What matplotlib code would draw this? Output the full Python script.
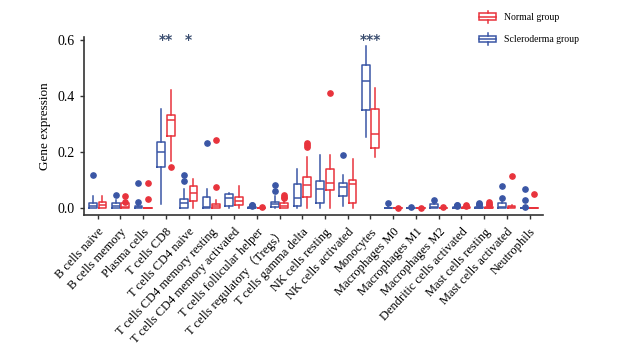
import matplotlib
matplotlib.use('Agg')
import matplotlib.pyplot as plt
from matplotlib.patches import Rectangle
from matplotlib.lines import Line2D
from matplotlib.legend_handler import HandlerBase
import numpy as np

plt.rcParams['font.family'] = ['Liberation Serif', 'Noto Sans CJK SC', 'DejaVu Serif']

cells = ['B cells naive', 'B cells memory', 'Plasma cells', 'T cells CD8', 'T cells CD4 naive',
         'T cells CD4 memory resting', 'T cells CD4 memory activated', 'T cells follicular helper',
         'T cells regulatory（Tregs）', 'T cells gamma delta', 'NK cells resting', 'NK cells activated',
         'Monocytes', 'Macrophages M0', 'Macrophages M1', 'Macrophages M2', 'Dendritic cells activated',
         'Mast cells resting', 'Mast cells activated', 'Neutrophils']

# Scleroderma group (blue): whisker low, q1, median, q3, whisker high, outliers
scl_lo  = [0, 0, 0, 0.015, 0, 0, 0, 0, 0, 0, 0, 0.006, 0.253, 0, 0, 0, 0, 0, 0, 0]
scl_q1  = [0, 0, 0, 0.145, 0, 0, 0.007, 0, 0.004, 0.007, 0.017, 0.043, 0.352, 0, 0, 0, 0, 0, 0, 0]
scl_med = [0.008, 0.006, 0.002, 0.199, 0.016, 0.005, 0.036, 0, 0.013, 0.035, 0.067, 0.076, 0.454, 0, 0, 0.005, 0, 0, 0.004, 0]
scl_q3  = [0.019, 0.016, 0.008, 0.237, 0.031, 0.04, 0.049, 0.002, 0.023, 0.086, 0.095, 0.089, 0.513, 0.001, 0, 0.013, 0.002, 0.003, 0.017, 0]
scl_hi  = [0.043, 0.028, 0.015, 0.355, 0.067, 0.066, 0.052, 0.004, 0.041, 0.139, 0.19, 0.119, 0.58, 0.013, 0, 0.016, 0.004, 0.006, 0.022, 0]
scl_out = [[0.119], [0.048], [0.09, 0.023], [], [0.119, 0.098], [0.233], [], [0.012, 0.009, 0.007],
           [0.082, 0.059], [], [], [0.188], [], [0.019], [0.002], [0.029], [0.012, 0.009, 0.007],
           [0.016, 0.013, 0.01], [0.077, 0.035], [0.066, 0.028, 0.003]]

# Normal group (red)
nor_lo  = [0, 0, 0, 0.167, 0, 0, 0, 0, 0, 0, 0, 0, 0.181, 0, 0, 0, 0, 0, 0, 0]
nor_q1  = [0, 0, 0, 0.258, 0.025, 0, 0.011, 0, 0.001, 0.04, 0.065, 0.017, 0.215, 0, 0, 0, 0, 0, 0, 0]
nor_med = [0.01, 0.005, 0, 0.313, 0.055, 0.007, 0.025, 0, 0.008, 0.082, 0.091, 0.087, 0.265, 0, 0, 0, 0, 0, 0.003, 0]
nor_q3  = [0.021, 0.016, 0, 0.332, 0.079, 0.015, 0.04, 0, 0.016, 0.109, 0.139, 0.101, 0.355, 0, 0, 0, 0.002, 0.003, 0.008, 0]
nor_hi  = [0.043, 0.02, 0, 0.423, 0.102, 0.03, 0.079, 0, 0.025, 0.183, 0.19, 0.175, 0.429, 0, 0, 0, 0.004, 0.006, 0.012, 0]
nor_out = [[], [0.041, 0.023], [0.088, 0.031], [0.145], [], [0.242, 0.074], [], [0.002],
           [0.045, 0.04, 0.037], [0.234, 0.225, 0.217], [0.411], [], [], [0.001], [0.001], [0.003],
           [0.01, 0.007], [0.02, 0.015, 0.011], [0.115], [0.049]]

sig_idx = [3, 4, 12]
sig_txt = ['**', '*', '***']

BLUE = '#3A56A5'
RED = '#E8333C'


def make_stats(lo, q1, med, q3, hi, out):
    return [dict(whislo=a, q1=b, med=c, q3=d, whishi=e, fliers=f)
            for a, b, c, d, e, f in zip(lo, q1, med, q3, hi, out)]


def draw(ax, stats, pos, color):
    ax.bxp(stats, positions=pos, widths=0.34, showcaps=False, patch_artist=False,
           boxprops=dict(color=color, linewidth=1.1),
           whiskerprops=dict(color=color, linewidth=1.1),
           medianprops=dict(color=color, linewidth=1.1),
           flierprops=dict(marker='o', markerfacecolor=color, markeredgecolor=color,
                           markersize=3.8, linestyle='none'))


class BoxHandler(HandlerBase):
    def create_artists(self, legend, orig_handle, xdescent, ydescent, width, height, fontsize, trans):
        c = orig_handle.get_color()
        w = width * 0.75
        x0 = -xdescent + (width - w) / 2
        y0 = -ydescent
        xc = x0 + w / 2
        r = Rectangle((x0, y0 + height * 0.1), w, height * 0.8, facecolor='white', edgecolor=c,
                      linewidth=1.1, transform=trans)
        m = Line2D([x0, x0 + w], [y0 + height / 2] * 2, color=c, linewidth=1.1, transform=trans)
        wt = Line2D([xc, xc], [y0 + height * 0.9, y0 + height * 1.2], color=c, linewidth=1.1, transform=trans)
        wb = Line2D([xc, xc], [y0 + height * 0.1, y0 - height * 0.2], color=c, linewidth=1.1, transform=trans)
        return [r, m, wt, wb]


fig = plt.figure(figsize=(6.18, 3.57), dpi=100)
ax = fig.add_axes([0.136, 0.398, 0.743, 0.497])

x = np.arange(len(cells))
draw(ax, make_stats(scl_lo, scl_q1, scl_med, scl_q3, scl_hi, scl_out), x - 0.21, BLUE)
draw(ax, make_stats(nor_lo, nor_q1, nor_med, nor_q3, nor_hi, nor_out), x + 0.21, RED)

for i, s in zip(sig_idx, sig_txt):
    ax.text(x[i], 0.6, s, ha='center', va='center', fontsize=10, color='#3B4E70',
            fontweight='bold', family='DejaVu Sans')

ax.set_xlim(-0.6, len(cells) - 0.4)
ax.set_ylim(-0.025, 0.61)
ax.set_yticks([0.0, 0.2, 0.4, 0.6])
ax.set_yticklabels(['0.0', '0.2', '0.4', '0.6'], fontsize=10)
ax.set_xticks(x)
ax.set_xticklabels(cells, rotation=47, ha='right', rotation_mode='anchor', fontsize=9)
ax.set_ylabel('Gene expression', fontsize=9.5, labelpad=5)
ax.tick_params(length=3, width=1, color='#333333')
ax.tick_params(axis='x', pad=5)
for s in ['top', 'right']:
    ax.spines[s].set_visible(False)
for s in ['left', 'bottom']:
    ax.spines[s].set_linewidth(1.2)
    ax.spines[s].set_color('#333333')

h_n = Line2D([], [], color=RED)
h_s = Line2D([], [], color=BLUE)
fig.legend([h_n, h_s], ['Normal group', 'Scleroderma group'], handler_map={Line2D: BoxHandler()},
           loc='upper left', bbox_to_anchor=(0.757, 0.99), frameon=False, fontsize=7,
           handlelength=2.3, handleheight=1.0, labelspacing=1.3, handletextpad=0.5)

fig.savefig('out.png', dpi=100)
